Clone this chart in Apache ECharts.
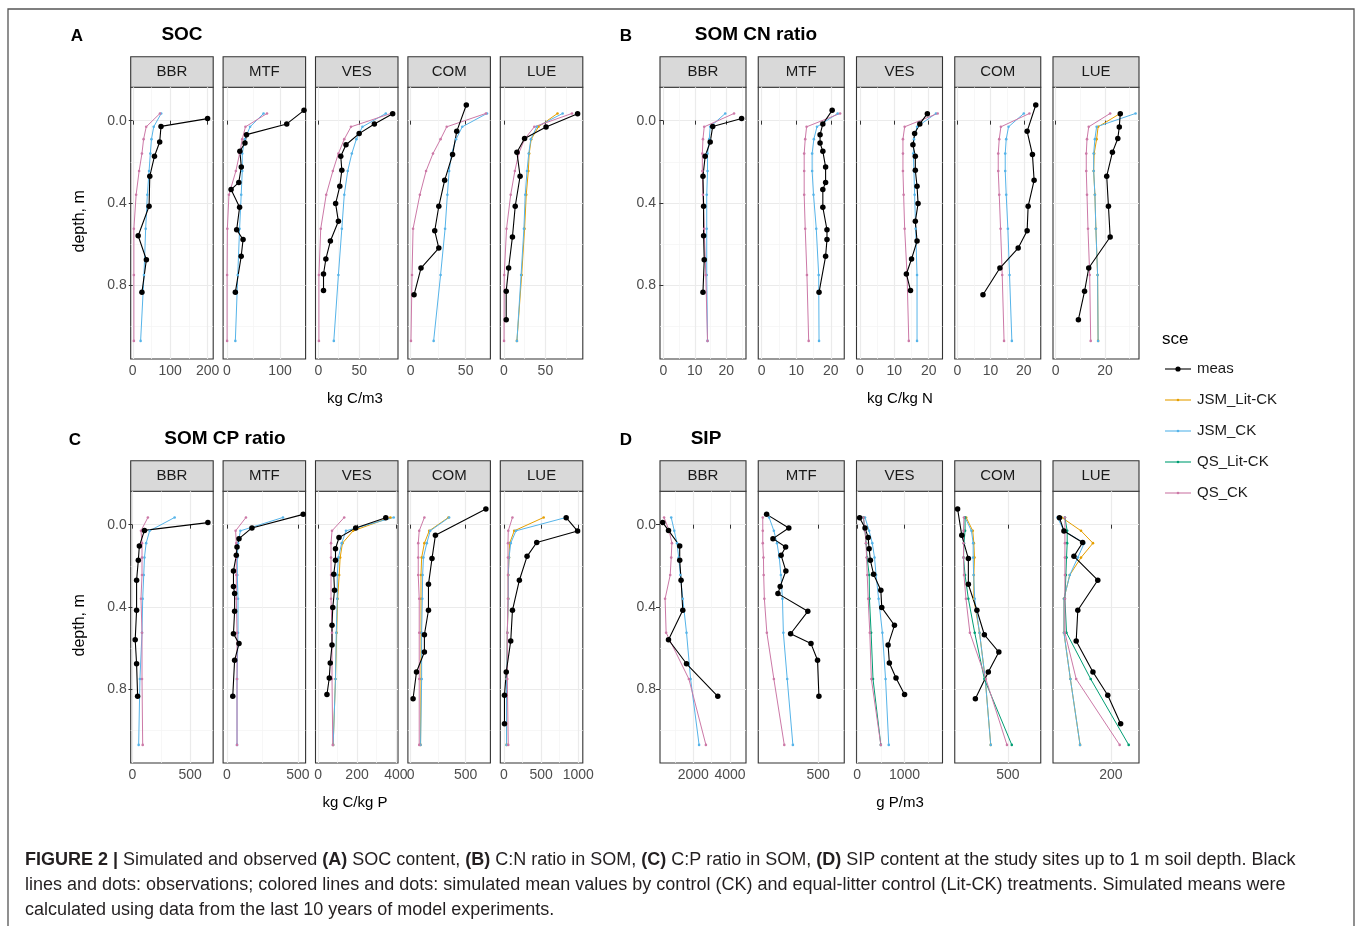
<!DOCTYPE html>
<html><head><meta charset="utf-8">
<script src="https://cdn.jsdelivr.net/npm/echarts@6/dist/echarts.min.js"></script>
<style>html,body{margin:0;padding:0;background:#fff}#c{width:1357px;height:926px}</style>
</head><body><div id="c"></div>
<script>
// ---------------- DATA ----------------
const sites = ['BBR','MTF','VES','COM','LUE'];
const scenarios = ['meas','JSM_Lit-CK','JSM_CK','QS_Lit-CK','QS_CK'];
const simDepth = [-0.035, 0.03, 0.09, 0.16, 0.245, 0.36, 0.525, 0.75, 1.07];
const measDepthBBR = [-0.01, 0.028, 0.104, 0.173, 0.27, 0.416, 0.559, 0.676, 0.834];
const measDepthMTF = [-0.05, 0.016, 0.068, 0.109, 0.149, 0.225, 0.30, 0.335, 0.421, 0.53, 0.578, 0.659, 0.834];
const measDepthVES = [-0.034, 0.016, 0.063, 0.117, 0.173, 0.241, 0.319, 0.403, 0.489, 0.585, 0.672, 0.745, 0.825];
const measDepthCOM = [-0.076, 0.052, 0.165, 0.29, 0.416, 0.535, 0.619, 0.716, 0.846];
const measDepthLUE = [-0.034, 0.031, 0.087, 0.154, 0.27, 0.416, 0.565, 0.716, 0.829, 0.967];
const depthTicks = [0, 0.4, 0.8];
const depthMinor = [0.2, 0.6, 1.0];

// A: SOC (kg C/m3), order BBR, MTF, VES, COM, LUE
const socMeas = [
  [200, 75.5, 72, 58, 45.5, 43.6, 14.5, 36.4, 24.5],
  [145, 112.6, 37, 34, 24.5, 27.2, 22.5, 8, 24, 18.5, 30.5, 27, 16],
  [91, 68.6, 50, 33.9, 27.5, 28.8, 26.3, 21.2, 24.6, 14.8, 9.3, 6.4, 6.4],
  [50.6, 41.9, 38.1, 30.9, 25.6, 21.9, 25.6, 9.4, 3.1],
  [88.75, 50.8, 25, 15.8, 19.6, 13.75, 10.4, 5.8, 2.9, 2.9]];
const socJsmCK = [
  [76, 56, 50, 47, 43.6, 39, 34.5, 30, 21],
  [69, 43.7, 33.8, 29, 29, 27, 24, 20.5, 16],
  [82.6, 54, 46.6, 41, 36, 31.8, 28.8, 24.6, 19],
  [69.4, 46.9, 41.3, 37.2, 35, 33.4, 31.3, 27.2, 20.9],
  [70.8, 39.6, 32.5, 30, 27.9, 25.8, 24.2, 20.8, 15.8]];
const socQsCK = [
  [72.7, 36, 29, 24.5, 17, 9, 3, 3, 3],
  [75.5, 35, 29, 24, 17, 4, 1, 0.5, 0.5],
  [89, 40, 31.8, 24.6, 17.8, 9.7, 3, 0.8, 0.8],
  [68.4, 32.8, 27.2, 20.3, 14, 8.4, 2.2, 1.25, 0.3],
  [82, 36.7, 25, 17.9, 13.3, 8.3, 3.3, 0.5, 0.3]];
const socJsmLit = [null, null, null, null, [64.6, 41.7, 33, 30.5, 29.5, 27, 25, 21.5, 15.8]];
const socQsLit = [null, null, null, null, null];

// B: SOM CN ratio (kg C/kg N)
const cnMeas = [
  [24.9, 15.7, 14.9, 13.3, 12.6, 12.8, 12.8, 13, 12.6],
  [20.4, 17.7, 16.9, 16.9, 17.7, 18.5, 18.5, 17.7, 17.7, 18.9, 18.9, 18.5, 16.6],
  [19.6, 17.4, 15.9, 15.4, 16.1, 16.1, 16.6, 16.9, 16.1, 16.6, 15, 13.5, 14.7],
  [23.6, 21, 22.6, 23.1, 21.3, 21, 18.3, 12.8, 7.7],
  [26.2, 25.8, 25.2, 23.0, 20.7, 21.4, 22.1, 13.4, 11.7, 9.2]];
const cnJsmCK = [
  [19.7, 14.9, 14.6, 14.05, 14.05, 13.8, 13.8, 13.8, 14.05],
  [22, 16, 15.1, 14.6, 14.6, 15, 15.8, 16.5, 16.6],
  [22.1, 16.6, 15.7, 15.5, 15.7, 15.9, 16.2, 16.6, 16.6],
  [20, 15.4, 14.7, 14.4, 14.4, 14.7, 15.2, 15.7, 16.4],
  [32.4, 16.6, 15.9, 15.4, 15.4, 15.9, 16.3, 17, 17.2]];
const cnQsCK = [
  [22.5, 13, 12.6, 12.4, 12.4, 12.6, 13, 13.5, 14.05],
  [22.7, 13, 12.6, 12.3, 12.3, 12.3, 12.6, 13.1, 13.6],
  [22.6, 13, 12.5, 12.5, 12.5, 12.7, 13, 13.7, 14.2],
  [21.7, 13.1, 12.6, 12.3, 12.3, 12.6, 13, 13.5, 14.05],
  [22.1, 13.4, 12.7, 12.4, 12.4, 12.7, 13.1, 13.8, 14.2]];
const cnJsmLit = [null, null, null, null, [26.2, 17.2, 16.6, 15.6, 15.4, 15.9, 16.3, 17, 17.2]];
const cnQsLit = [null, null, null, null, null];

// C: SOM CP ratio (kg C/kg P)
const cpMeas = [
  [654, 104, 60, 51, 36, 36, 24, 36, 45],
  [537, 176, 85, 71, 66, 46, 46, 54, 54, 46, 85, 54, 41],
  [348, 193, 107, 89, 89, 80, 84, 75, 71, 71, 62, 57, 45],
  [684, 225, 194, 162, 162, 125, 125, 53, 22],
  [837, 990, 442, 312, 209, 116, 93, 33, 9, 9]];
const cpJsmCK = [
  [366, 149, 119, 104, 98, 89, 83, 65, 54],
  [395, 95, 78, 73, 73, 78, 78, 71, 71],
  [389, 143, 121, 104, 98, 98, 93, 89, 77],
  [350, 178, 147, 116, 109, 106, 100, 100, 90],
  [837, 163, 93, 70, 60, 60, 47, 37, 37]];
const cpQsCK = [
  [134, 74, 83, 83, 83, 74, 83, 83, 89],
  [134, 61, 66, 66, 66, 66, 71, 71, 71],
  [134, 71, 66, 66, 66, 66, 71, 71, 75],
  [125, 78, 69, 69, 69, 78, 78, 78, 78],
  [116, 60, 56, 56, 56, 56, 47, 47, 60]];
const cpJsmLit = [null, null,
  [372, 180, 125, 113, 108, 100, 95, 89, 77],
  [344, 169, 125, 100, 94, 94, 94, 94, 90],
  [535, 140, 79, 70, 60, 60, 47, 37, 37]];
const cpQsLit = [null, null, null, null, null];

// D: SIP (g P/m3)
const sipMeas = [
  [333, 648, 1259, 1259, 1333, 1426, 648, 1630, 3333],
  [272, 370, 300, 356, 336, 357, 332, 322, 454, 378, 468, 497, 503],
  [53, 167, 233, 253, 280, 347, 500, 520, 787, 653, 680, 820, 1000],
  [271, 290, 320, 320, 359, 393, 459, 411, 352],
  [120, 127, 156, 142.5, 179.5, 148.5, 146, 172, 195, 215]];
const sipJsmCK = [
  [796, 963, 1111, 1204, 1296, 1426, 1630, 1852, 2315],
  [283, 304, 318, 328, 335, 342, 346, 363, 388],
  [167, 253, 320, 367, 400, 453, 533, 600, 667],
  [305, 334, 342, 342, 344, 349, 371, 397, 422],
  [117, 127, 158.5, 148.5, 136, 127, 127, 137, 152]];
const sipQsCK = [
  [407, 685, 833, 796, 741, 463, 519, 1759, 2685],
  [255, 255, 255, 258, 259, 262, 273, 304, 350],
  [133, 167, 187, 200, 213, 233, 267, 300, 500],
  [300, 298, 298, 298, 300, 309, 327, 400, 496],
  [128.5, 128.5, 128.5, 128.5, 128.5, 128.5, 128.5, 146, 213.5]];
const sipJsmLit = [null, null, null,
  [310, 340, 345, 348, 345, 345, 371, 397, 422],
  [123.5, 153.5, 172, 153.5, 136, 127, 127, 137, 152]];
const sipQsLit = [null, null,
  [133, 167, 190, 210, 255, 260, 295, 335, 500],
  [305, 305, 300, 298, 305, 320, 349, 393, 518],
  [128.5, 132, 132, 131, 130, 128.5, 131, 168.5, 227.5]];

// x-axis ranges and tick labels per facet
const socRange = [[-5.5, 215], [-7, 148], [-3.4, 97.5], [-2.5, 72.5], [-4.2, 95]];
const socTicks = [[0, 100, 200], [0, 100], [0, 50], [0, 50], [0, 50]];
const socMinor = [[50, 150], [50], [25, 75], [25], [25, 75]];
const cnRange = [[-1.08, 26.3], [-1, 23.9], [-1, 24], [-0.8, 25.1], [-1.1, 33.8]];
const cnTicks = [[0, 10, 20], [0, 10, 20], [0, 10, 20], [0, 10, 20], [0, 20]];
const cnMinor = [[5, 15, 25], [5, 15], [5, 15], [5, 15], [10, 30]];
const cpRange = [[-15, 700], [-27, 554], [-14, 411], [-25, 725], [-47, 1060]];
const cpTicks = [[0, 500], [0, 500], [0, 200, 400], [0, 500], [0, 500, 1000]];
const cpMinor = [[250], [250], [100, 300], [250], [250, 750]];
const sipRange = [[185, 4870], [235, 615], [-13, 1800], [258, 650], [110, 243.5]];
const sipTicks = [[2000, 4000], [500], [0, 1000], [500], [200]];
const sipMinor = [[1000, 3000], [], [500, 1500], [], []];

// ---------------- LAYOUT ----------------
const colors = {'meas':'#000000','JSM_Lit-CK':'#E69F00','JSM_CK':'#56B4E9','QS_Lit-CK':'#009E73','QS_CK':'#CC79A7'};
const FONT = 'Liberation Sans, Arial, sans-serif';
const measDepth = [measDepthBBR, measDepthMTF, measDepthVES, measDepthCOM, measDepthLUE];
const panels = [
  {letter:'A', title:'SOC', xTitle:'kg C/m3', meas:socMeas, jck:socJsmCK, qck:socQsCK, jlit:socJsmLit, qlit:socQsLit, range:socRange, ticks:socTicks, minor:socMinor,
   x0:130.7, pitch:92.4, w:82.5, top:87.3, letterX:77, titleX:182, ytitle:true, xTitleX:355},
  {letter:'B', title:'SOM CN ratio', xTitle:'kg C/kg N', meas:cnMeas, jck:cnJsmCK, qck:cnQsCK, jlit:cnJsmLit, qlit:cnQsLit, range:cnRange, ticks:cnTicks, minor:cnMinor,
   x0:660, pitch:98.25, w:86, top:87.3, letterX:626, titleX:756, ytitle:false, xTitleX:900},
  {letter:'C', title:'SOM CP ratio', xTitle:'kg C/kg P', meas:cpMeas, jck:cpJsmCK, qck:cpQsCK, jlit:cpJsmLit, qlit:cpQsLit, range:cpRange, ticks:cpTicks, minor:cpMinor,
   x0:130.7, pitch:92.4, w:82.5, top:491.3, letterX:75, titleX:225, ytitle:true, xTitleX:355},
  {letter:'D', title:'SIP', xTitle:'g P/m3', meas:sipMeas, jck:sipJsmCK, qck:sipQsCK, jlit:sipJsmLit, qlit:sipQsLit, range:sipRange, ticks:sipTicks, minor:sipMinor,
   x0:660, pitch:98.25, w:86, top:491.3, letterX:626, titleX:706, ytitle:false, xTitleX:900}
];
const PH = 271.7, STRIP = 30.6;

const grids = [], xAxes = [], yAxes = [], series = [], graphics = [];
graphics.push({type:'rect', shape:{x:8, y:9, width:1346, height:940}, style:{fill:'none', stroke:'#555', lineWidth:1.3}, z:0});

panels.forEach((p, pi) => {
  graphics.push({type:'text', x:p.letterX, y:p.top-51, style:{text:p.letter, font:'bold 17px '+FONT, fill:'#000', align:'center', verticalAlign:'middle'}});
  graphics.push({type:'text', x:p.titleX, y:p.top-53, style:{text:p.title, font:'bold 19px '+FONT, fill:'#000', align:'center', verticalAlign:'middle'}});
  graphics.push({type:'text', x:p.xTitleX, y:p.top+PH+40, style:{text:p.xTitle, font:'15px '+FONT, fill:'#000', align:'center', verticalAlign:'middle'}});
  if (p.ytitle) {
    graphics.push({type:'text', x:80, y:p.top+134, rotation:Math.PI/2, style:{text:'depth, m', font:'16px '+FONT, fill:'#000', align:'center', verticalAlign:'middle'}});
  }
  sites.forEach((s, si) => {
    const g = pi*5 + si;
    const left = p.x0 + si*p.pitch;
    grids.push({left:left, top:p.top, width:p.w, height:PH, show:true, borderColor:'#333', borderWidth:1.1, backgroundColor:'#fff', containLabel:false});
    // strip
    graphics.push({type:'rect', shape:{x:left, y:p.top-STRIP, width:p.w, height:STRIP}, style:{fill:'#D9D9D9', stroke:'#333', lineWidth:1.1}});
    graphics.push({type:'text', x:left+p.w/2, y:p.top-STRIP/2, style:{text:s, font:'15px '+FONT, fill:'#1A1A1A', align:'center', verticalAlign:'middle'}});
    const [mn, mx] = p.range[si];
    xAxes.push({gridIndex:g, type:'value', min:mn, max:mx, position:'bottom',
      axisLine:{show:false},
      axisTick:{show:true, customValues:p.ticks[si], length:4, lineStyle:{color:'#333', width:1}},
      axisLabel:{show:true, customValues:p.ticks[si], color:'#4D4D4D', fontSize:14, fontFamily:FONT, margin:5, hideOverlap:false, showMinLabel:true, showMaxLabel:true, formatter:v=>String(v)},
      splitLine:{show:true, lineStyle:{color:'#EBEBEB', width:1.2}}});
    xAxes.push({gridIndex:g, type:'value', min:mn, max:mx, position:'top',
      axisLine:{show:false}, axisTick:{show:false, customValues:p.minor[si]}, axisLabel:{show:false, customValues:p.minor[si]},
      splitLine:{show:p.minor[si].length>0, lineStyle:{color:'#F3F3F3', width:0.7}}});
    yAxes.push({gridIndex:g, type:'value', inverse:true, min:-0.162, max:1.158, position:'left',
      axisLine:{show:false},
      axisTick:{show:si===0, customValues:depthTicks, length:4, lineStyle:{color:'#333'}},
      axisLabel:{show:si===0, customValues:depthTicks, color:'#4D4D4D', fontSize:14, fontFamily:FONT, margin:4, formatter:v=>v.toFixed(1)},
      splitLine:{show:true, lineStyle:{color:'#EBEBEB', width:1.2}}});
    yAxes.push({gridIndex:g, type:'value', inverse:true, min:-0.162, max:1.158, position:'right',
      axisLine:{show:false}, axisTick:{show:false, customValues:depthMinor}, axisLabel:{show:false, customValues:depthMinor},
      splitLine:{show:true, lineStyle:{color:'#F3F3F3', width:0.7}}});
    const xi = g*2, yi = g*2;
    const sim = (name, vals) => {
      if (!vals) return;
      series.push({type:'line', name:name, xAxisIndex:xi, yAxisIndex:yi, data:simDepth.map((d,k)=>[vals[k], d]),
        symbol:'circle', symbolSize:2.6, showSymbol:true, lineStyle:{color:colors[name], width:1}, itemStyle:{color:colors[name]},
        silent:true, animation:false, clip:true});
    };
    sim('JSM_Lit-CK', p.jlit[si]);
    sim('JSM_CK', p.jck[si]);
    sim('QS_Lit-CK', p.qlit[si]);
    sim('QS_CK', p.qck[si]);
    const mv = p.meas[si];
    series.push({type:'line', name:'meas', xAxisIndex:xi, yAxisIndex:yi, data:measDepth[si].map((d,k)=>[mv[k], d]),
      symbol:'circle', symbolSize:5.5, lineStyle:{color:'#000', width:1.1}, itemStyle:{color:'#000'}, silent:true, animation:false, z:3});
  });
});

// legend (drawn)
graphics.push({type:'text', x:1162, y:339, style:{text:'sce', font:'17px '+FONT, fill:'#000', verticalAlign:'middle'}});
scenarios.forEach((n, i) => {
  const y = 369 + i*31;
  graphics.push({type:'line', shape:{x1:1165, y1:y, x2:1191, y2:y}, style:{stroke:colors[n], lineWidth:1.1}});
  graphics.push({type:'circle', shape:{cx:1178, cy:y, r:n==='meas'?2.6:1.3}, style:{fill:colors[n]}});
  graphics.push({type:'text', x:1197, y:y, style:{text:n, font:'15px '+FONT, fill:'#1A1A1A', verticalAlign:'middle'}});
});

// caption
const CAP = 'Liberation Sans Narrow, Arial Narrow, sans-serif';
const capRich = {b:{fontFamily:CAP, fontSize:18, fontWeight:'bold', fill:'#231F20'}, n:{fontFamily:CAP, fontSize:18, fill:'#231F20'}};
const capLines = [
  '{b|FIGURE 2 |}{n| Simulated and observed }{b|(A)}{n| SOC content, }{b|(B)}{n| C:N ratio in SOM, }{b|(C)}{n| C:P ratio in SOM, }{b|(D)}{n| SIP content at the study sites up to 1 m soil depth. Black}',
  '{n|lines and dots: observations; colored lines and dots: simulated mean values by control (CK) and equal-litter control (Lit-CK) treatments. Simulated means were}',
  '{n|calculated using data from the last 10 years of model experiments.}'];
capLines.forEach((t, i) => {
  graphics.push({type:'text', x:25, y:860 + i*25, style:{text:t, rich:capRich, font:'18px '+CAP, fill:'#231F20', verticalAlign:'middle'}});
});

const chart = echarts.init(document.getElementById('c'), null, {renderer:'canvas'});
chart.setOption({animation:false, backgroundColor:'#fff', grid:grids, xAxis:xAxes, yAxis:yAxes, series:series, graphic:graphics});
</script></body></html>
